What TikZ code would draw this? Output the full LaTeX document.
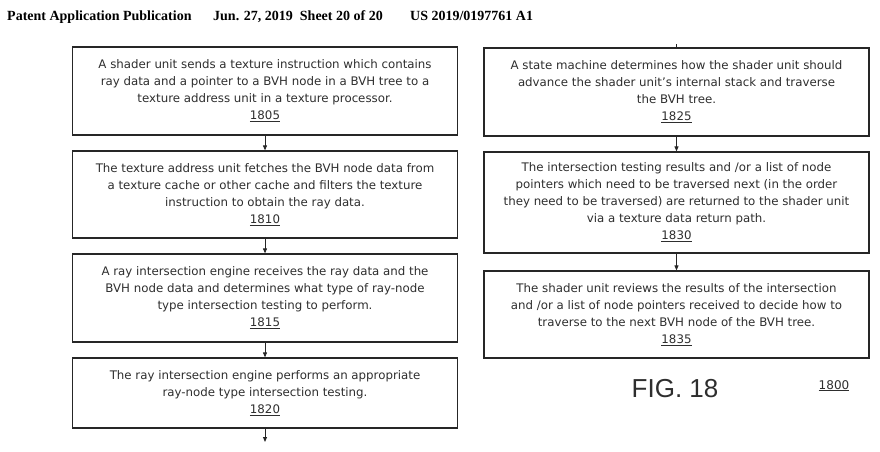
\documentclass[tikz,border=0pt]{standalone}
\usepackage{fontspec}
\setmainfont{DejaVu Sans}
\newfontfamily\hdrfont{Liberation Serif}
\newfontfamily\figfont{Liberation Sans}
\usetikzlibrary{arrows.meta}
\definecolor{inkc}{HTML}{262626}
\definecolor{textc}{HTML}{2E2E2E}
\begin{document}
\begin{tikzpicture}[x=1pt,y=-1pt,
  stepbox/.style={draw=inkc, line width=1.2pt, minimum width=385pt, inner sep=0pt,
    align=center, text=textc, font=\fontsize{11.8}{17}\selectfont},
  flow/.style={draw=inkc, line width=0.9pt, -{Triangle[length=5pt,width=4pt]}},
  hdr/.style={anchor=base west, inner sep=0pt, font=\hdrfont\bfseries\fontsize{14}{14}\selectfont}
]
\useasboundingbox (0,0) rectangle (880,451);
% header
\node[hdr] (h1) at (7,20.5) {Patent Application Publication};
\node[hdr] (h2) at (213,20.5) {Jun. 27, 2019\ \ Sheet 20 of 20};
\node[hdr] (h3) at (410,20.5) {US 2019/0197761 A1};
% left column
\node[stepbox, minimum height=88pt] (b1805) at (265,91) {A shader unit sends a texture instruction which contains\\ray data and a pointer to a BVH node in a BVH tree to a\\texture address unit in a texture processor.\\\underline{1805}};
\node[stepbox, minimum height=87pt] (b1810) at (265,194.5) {The texture address unit fetches the BVH node data from\\a texture cache or other cache and filters the texture\\instruction to obtain the ray data.\\\underline{1810}};
\node[stepbox, minimum height=88pt] (b1815) at (265,298) {A ray intersection engine receives the ray data and the\\BVH node data and determines what type of ray-node\\type intersection testing to perform.\\\underline{1815}};
\node[stepbox, minimum height=70pt] (b1820) at (265,393) {The ray intersection engine performs an appropriate\\ray-node type intersection testing.\\\underline{1820}};
\coordinate (outL) at (265,442);
% right column
\coordinate (inR) at (676.5,44);
\node[stepbox, minimum height=88pt] (b1825) at (676.5,92) {A state machine determines how the shader unit should\\advance the shader unit's internal stack and traverse\\the BVH tree.\\\underline{1825}};
\node[stepbox, minimum height=101pt] (b1830) at (676.5,202.5) {The intersection testing results and /or a list of node\\pointers which need to be traversed next (in the order\\they need to be traversed) are returned to the shader unit\\via a texture data return path.\\\underline{1830}};
\node[stepbox, minimum height=87pt] (b1835) at (676.5,314.5) {The shader unit reviews the results of the intersection\\and /or a list of node pointers received to decide how to\\traverse to the next BVH node of the BVH tree.\\\underline{1835}};
% connectors
\draw[flow] (b1805) -- (b1810);
\draw[flow] (b1810) -- (b1815);
\draw[flow] (b1815) -- (b1820);
\draw[flow] (b1820) -- (outL);
\draw[draw=inkc, line width=0.9pt] (inR) -- (b1825.north);
\draw[flow] (b1825) -- (b1830);
\draw[flow] (b1830) -- (b1835);
% figure label
\node[anchor=base, inner sep=0pt, text=textc, font=\figfont\fontsize{26}{26}\selectfont] (fig) at (675,397) {FIG. 18};
\node[anchor=base, inner sep=0pt, text=textc, font=\fontsize{12}{12}\selectfont] (ref) at (834,389) {\underline{1800}};
\end{tikzpicture}
\end{document}
